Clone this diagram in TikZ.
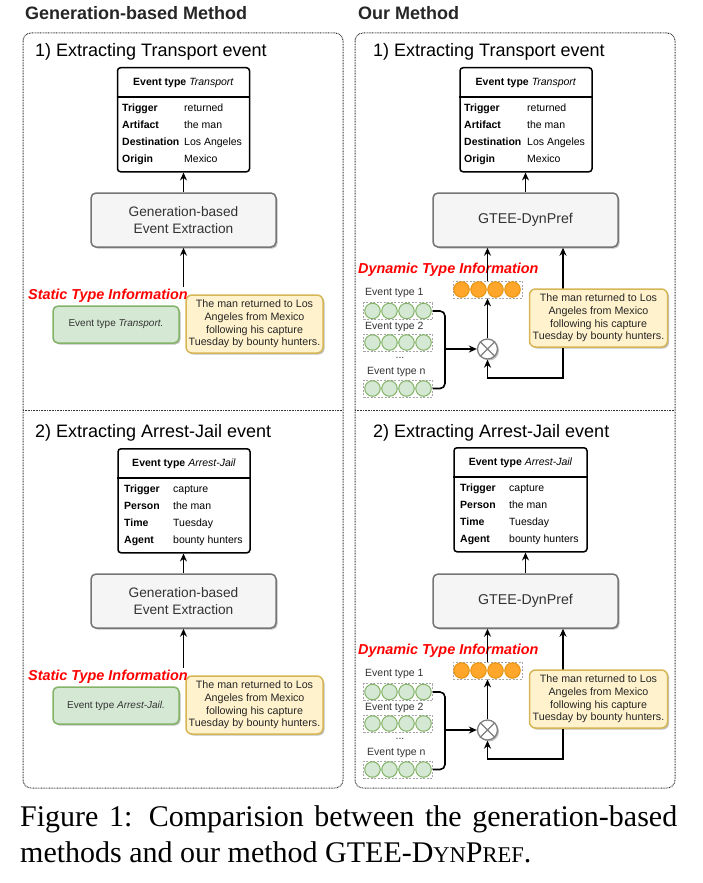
\documentclass[tikz,border=0pt]{standalone}
\usepackage{fontspec}
\setmainfont{Liberation Sans}
\newfontfamily\capfont{Liberation Serif}
\usetikzlibrary{arrows.meta,shadows,backgrounds}
\definecolor{genfill}{HTML}{F5F5F5}
\definecolor{gendraw}{HTML}{666666}
\definecolor{gentext}{HTML}{333333}
\definecolor{grfill}{HTML}{D5E8D4}
\definecolor{grdraw}{HTML}{82B366}
\definecolor{yefill}{HTML}{FFF2CC}
\definecolor{yedraw}{HTML}{D6B656}
\definecolor{orfill}{HTML}{FFA62B}
\definecolor{ordraw}{HTML}{E89410}
\definecolor{panelc}{HTML}{333333}
\tikzset{
 myshadow/.style={drop shadow={shadow xshift=1.5pt,shadow yshift=-1.5pt,opacity=0.25,fill=black}},
 panelbox/.style={draw=panelc,line width=1pt,dash pattern=on 0.8pt off 0.8pt,rounded corners=8pt},
 paneldiv/.style={draw=panelc,line width=1pt,dash pattern=on 0.8pt off 0.8pt},
 tabbox/.style={draw=black,line width=1.5pt,rounded corners=3pt,fill=white,inner sep=0},
 tabhead/.style={font=\fontsize{10.5}{12}\selectfont,inner sep=0},
 tablab/.style={font=\fontsize{10.5}{12}\selectfont\bfseries,anchor=west,inner sep=0,text height=8pt,text depth=2pt},
 tabval/.style={font=\fontsize{10.5}{12}\selectfont,anchor=west,inner sep=0,text height=8pt,text depth=2pt},
 genbox/.style={draw=gendraw!90,fill=genfill,line width=1.5pt,rounded corners=5pt,text=gentext,
   align=center,inner sep=0,minimum width=185pt,minimum height=54pt,myshadow},
 greenbox/.style={draw=grdraw,fill=grfill,line width=1.5pt,rounded corners=5pt,inner sep=0,
   font=\fontsize{10}{12}\selectfont,text=gentext,minimum width=126pt,minimum height=37pt,myshadow},
 yelbox/.style={draw=yedraw,fill=yefill,line width=1.5pt,rounded corners=6pt,inner sep=0,
   font=\fontsize{10.7}{12.7}\selectfont,align=center,text=black!85,minimum width=137pt,minimum height=58pt,myshadow},
 redlab/.style={font=\fontsize{14.4}{16}\selectfont\bfseries\itshape,text=red,anchor=west,inner sep=0},
 titlelab/.style={font=\fontsize{18}{20}\selectfont,anchor=west,inner sep=0},
 headlab/.style={font=\fontsize{18}{20}\selectfont\bfseries,text=black!85,anchor=west,inner sep=0},
 smalllab/.style={font=\fontsize{10.5}{12}\selectfont,text=gentext,anchor=west,inner sep=0},
 dashbox/.style={draw=gray!70,dash pattern=on 2pt off 1.5pt,line width=0.7pt,inner sep=0,minimum width=69pt,minimum height=17pt},
 gcirc/.style={circle,draw=grdraw,fill=grfill,line width=1pt,minimum size=15.5pt,inner sep=0},
 ocirc/.style={circle,draw=ordraw,fill=orfill,line width=1pt,minimum size=15.5pt,inner sep=0},
 otim/.style={circle,draw=gray,fill=white,line width=1.3pt,minimum size=20pt,inner sep=0,myshadow},
 arr/.style={-{Stealth[length=8pt,width=7pt]},line width=1.6pt},
 plainline/.style={line width=1.6pt},
}
% table: #1 name, #2 cx, #3 top, #4 width, #5 label x, #6 value x, #7 type, #8 rows
\newcommand\evtab[8]{%
 \node[tabbox,minimum width=#4pt,minimum height=104pt,anchor=north] (#1) at (#2,#3) {};
 \node[tabhead] (#1h) at (#2,#3+16) {\textbf{Event type} \textit{#7}};
 \draw[line width=1.5pt] (#1.west |- 0,#3+30) -- (#1.east |- 0,#3+30);
 \foreach \rlab/\rval [count=\i] in {#8} {
   \node[tablab] (#1l\i) at (#5,#3+24+17*\i) {\rlab};
   \node[tabval] (#1v\i) at (#6,#3+24+17*\i) {\rval};
 }}
% left lower part: #1 suffix, #2 shift, #3 type
\newcommand\leftlower[3]{%
 \begin{scope}[yshift=-#2pt]
 \node[genbox,font=\fontsize{13.7}{17}\selectfont] (gL#1) at (183.5,220) {Generation-based\\Event Extraction};
 \draw[arr] (gL#1.north) -- (gL#1.north |- tL#1.south);
 \coordinate (sL#1) at (183.5,287);
 \draw[arr] (sL#1) -- (gL#1.south);
 \node[greenbox] (eL#1) at (116,324.5) {Event type \textit{#3.}};
 \node[yelbox] (yL#1) at (254.5,324) {The man returned to Los\\Angeles from Mexico\\following his capture\\Tuesday by bounty hunters.};
 \node[redlab] (stL#1) at (28,296) {Static Type Information};
 \end{scope}}
% right lower part: #1 suffix, #2 shift
\newcommand\rightlower[2]{%
 \begin{scope}[yshift=-#2pt]
 \node[genbox,font=\fontsize{14.2}{17}\selectfont] (gR#1) at (525.5,220) {GTEE-DynPref};
 \draw[arr] (gR#1.north) -- (gR#1.north |- tR#1.south);
 \node[redlab] (dyR#1) at (358,270) {Dynamic Type Information};
 \node[dashbox] (oR#1) at (487.5,289.5) {};
 \foreach \k in {0,...,3} \node[ocirc] (oR#1c\k) at (461.5+17*\k,289.5) {};
 \node[smalllab] (laR#1) at (365,293) {Event type 1};
 \node[dashbox] (raR#1) at (398,311) {};
 \foreach \k in {0,...,3} \node[gcirc] (raR#1c\k) at (372.5+17*\k,311) {};
 \node[smalllab] (lbR#1) at (365,327) {Event type 2};
 \node[dashbox] (rbR#1) at (398,342.5) {};
 \foreach \k in {0,...,3} \node[gcirc] (rbR#1c\k) at (372.5+17*\k,342.5) {};
 \node[smalllab,anchor=center] (ldR#1) at (400,358) {...};
 \node[smalllab] (lnR#1) at (367,372) {Event type n};
 \node[dashbox] (rnR#1) at (398,388.5) {};
 \foreach \k in {0,...,3} \node[gcirc] (rnR#1c\k) at (372.5+17*\k,388.5) {};
 \node[otim] (xR#1) at (487.5,349) {};
 \draw[gray,line width=1.3pt] (xR#1.north east) -- (xR#1.south west) (xR#1.north west) -- (xR#1.south east);
 \draw[plainline,rounded corners=5pt] (raR#1.east) -- (445,311) -- (445,388.5) -- (rnR#1.east);
 \coordinate (brR#1) at (445,349);
 \draw[arr] (brR#1) -- (xR#1.west);
 \draw[arr] (xR#1.north) -- (oR#1.south);
 \draw[arr] (oR#1.north) -- (oR#1.north |- gR#1.south);
 \node[yelbox,minimum width=138pt] (yR#1) at (598.5,318) {The man returned to Los\\Angeles from Mexico\\following his capture\\Tuesday by bounty hunters.};
 \begin{pgfonlayer}{background}
 \draw[arr] (yR#1.center -| 563,0) -- (gR#1.south -| 563,0);
 \draw[arr] (yR#1.center -| 563,0) -- (563,378) -| (xR#1.south);
 \end{pgfonlayer}
 \end{scope}}
\begin{document}
\begin{tikzpicture}[x=1pt,y=-1pt]
\useasboundingbox (0,0) rectangle (702,883);
% headers
\node[headlab] (hL) at (25,13) {Generation-based Method};
\node[headlab] (hR) at (358,13) {Our Method};
% panels
\draw[panelbox] (23,33) rectangle (343,788);
\draw[paneldiv] (23,410) -- (343,410);
\draw[panelbox] (355,33) rectangle (675,788);
\draw[paneldiv] (355,410) -- (675,410);
% titles
\node[titlelab] (tiL1) at (35,52) {1) Extracting Transport event};
\node[titlelab] (tiL2) at (35,433) {2) Extracting Arrest-Jail event};
\node[titlelab] (tiR1) at (373,52) {1) Extracting Transport event};
\node[titlelab] (tiR2) at (373,433) {2) Extracting Arrest-Jail event};
% tables
\evtab{tL1}{183.5}{67}{132}{122}{184}{Transport}{Trigger/returned,Artifact/the man,Destination/Los Angeles,Origin/Mexico}
\evtab{tL2}{184}{448}{132}{124}{173}{Arrest-Jail}{Trigger/capture,Person/the man,Time/Tuesday,Agent/bounty hunters}
\evtab{tR1}{526}{67}{132}{464}{527}{Transport}{Trigger/returned,Artifact/the man,Destination/Los Angeles,Origin/Mexico}
\evtab{tR2}{520.5}{447}{133}{460}{509}{Arrest-Jail}{Trigger/capture,Person/the man,Time/Tuesday,Agent/bounty hunters}
% lower parts
\leftlower{1}{0}{Transport}
\leftlower{2}{381}{Arrest-Jail}
\rightlower{1}{0}
\rightlower{2}{381}
% caption
\node[anchor=base west,inner sep=0,font={\capfont\fontsize{30}{36}\selectfont}] (cap1) at (20,826)
  {\makebox[657pt][s]{Figure 1: Comparision between the generation-based}};
\node[anchor=base west,inner sep=0,font={\capfont\fontsize{30}{36}\selectfont}] (cap2) at (20,862)
  {methods and our method GTEE-D{\fontsize{22.5}{22}\selectfont YN}P{\fontsize{22.5}{22}\selectfont REF}.};
\end{tikzpicture}
\end{document}
